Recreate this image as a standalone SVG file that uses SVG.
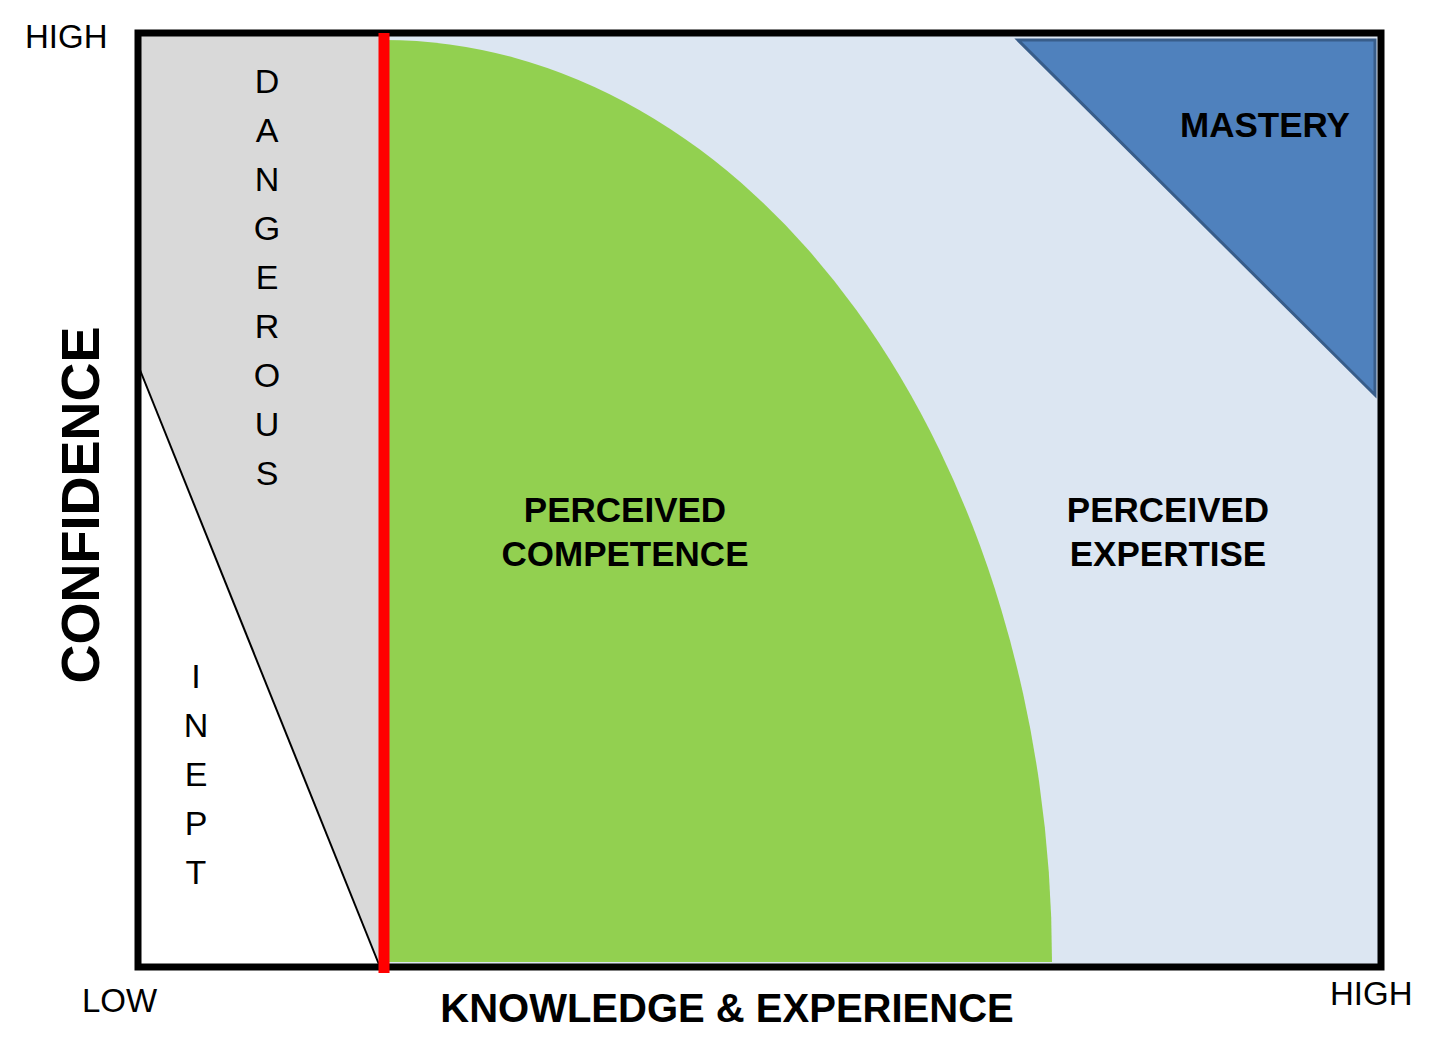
<svg xmlns="http://www.w3.org/2000/svg" width="1448" height="1041" viewBox="0 0 1448 1041">
<style>
text{font-family:"Liberation Sans",Arial,sans-serif;fill:#000}
.b{font-weight:bold}
.lbl{font-size:35px;font-weight:bold;text-anchor:middle}
.ax{font-size:33px}
.v{font-size:34px;text-anchor:middle}
</style>
<rect width="1448" height="1041" fill="#fff"/>
<rect x="138" y="33" width="246" height="934" fill="#d9d9d9"/>
<polygon points="138,365 380,967 138,967" fill="#fff"/>
<line x1="138" y1="365" x2="380" y2="967" stroke="#000" stroke-width="2"/>
<rect x="384" y="33" width="997" height="934" fill="#dce6f2"/>
<path d="M384,40 A668,922 0 0 1 1052,962 L384,962 Z" fill="#92d050"/>
<polygon points="1018,40 1375,40 1375,395" fill="#4f81bd" stroke="#385d8a" stroke-width="3"/>
<rect x="138" y="33" width="1243" height="934" fill="none" stroke="#000" stroke-width="7"/>
<line x1="384" y1="33" x2="384" y2="973" stroke="#ff0000" stroke-width="11"/>
<text class="ax" x="25" y="48">HIGH</text>
<text class="ax" x="82" y="1012">LOW</text>
<text class="ax" x="1330" y="1005">HIGH</text>
<text class="b" x="727" y="1022" font-size="40" text-anchor="middle">KNOWLEDGE &amp; EXPERIENCE</text>
<text class="b" transform="translate(99,505) rotate(-90)" font-size="54" text-anchor="middle">CONFIDENCE</text>
<g class="v">
<text class="v" x="267" y="93">D</text><text class="v" x="267" y="142">A</text><text class="v" x="267" y="191">N</text><text class="v" x="267" y="240">G</text><text class="v" x="267" y="289">E</text><text class="v" x="267" y="338">R</text><text class="v" x="267" y="387">O</text><text class="v" x="267" y="436">U</text><text class="v" x="267" y="485">S</text>
<text class="v" x="196" y="688">I</text><text class="v" x="196" y="737">N</text><text class="v" x="196" y="786">E</text><text class="v" x="196" y="835">P</text><text class="v" x="196" y="884">T</text>
</g>
<text class="lbl" x="625" y="522">PERCEIVED</text>
<text class="lbl" x="625" y="566">COMPETENCE</text>
<text class="lbl" x="1168" y="522">PERCEIVED</text>
<text class="lbl" x="1168" y="566">EXPERTISE</text>
<text class="lbl" x="1265" y="137">MASTERY</text>
</svg>
